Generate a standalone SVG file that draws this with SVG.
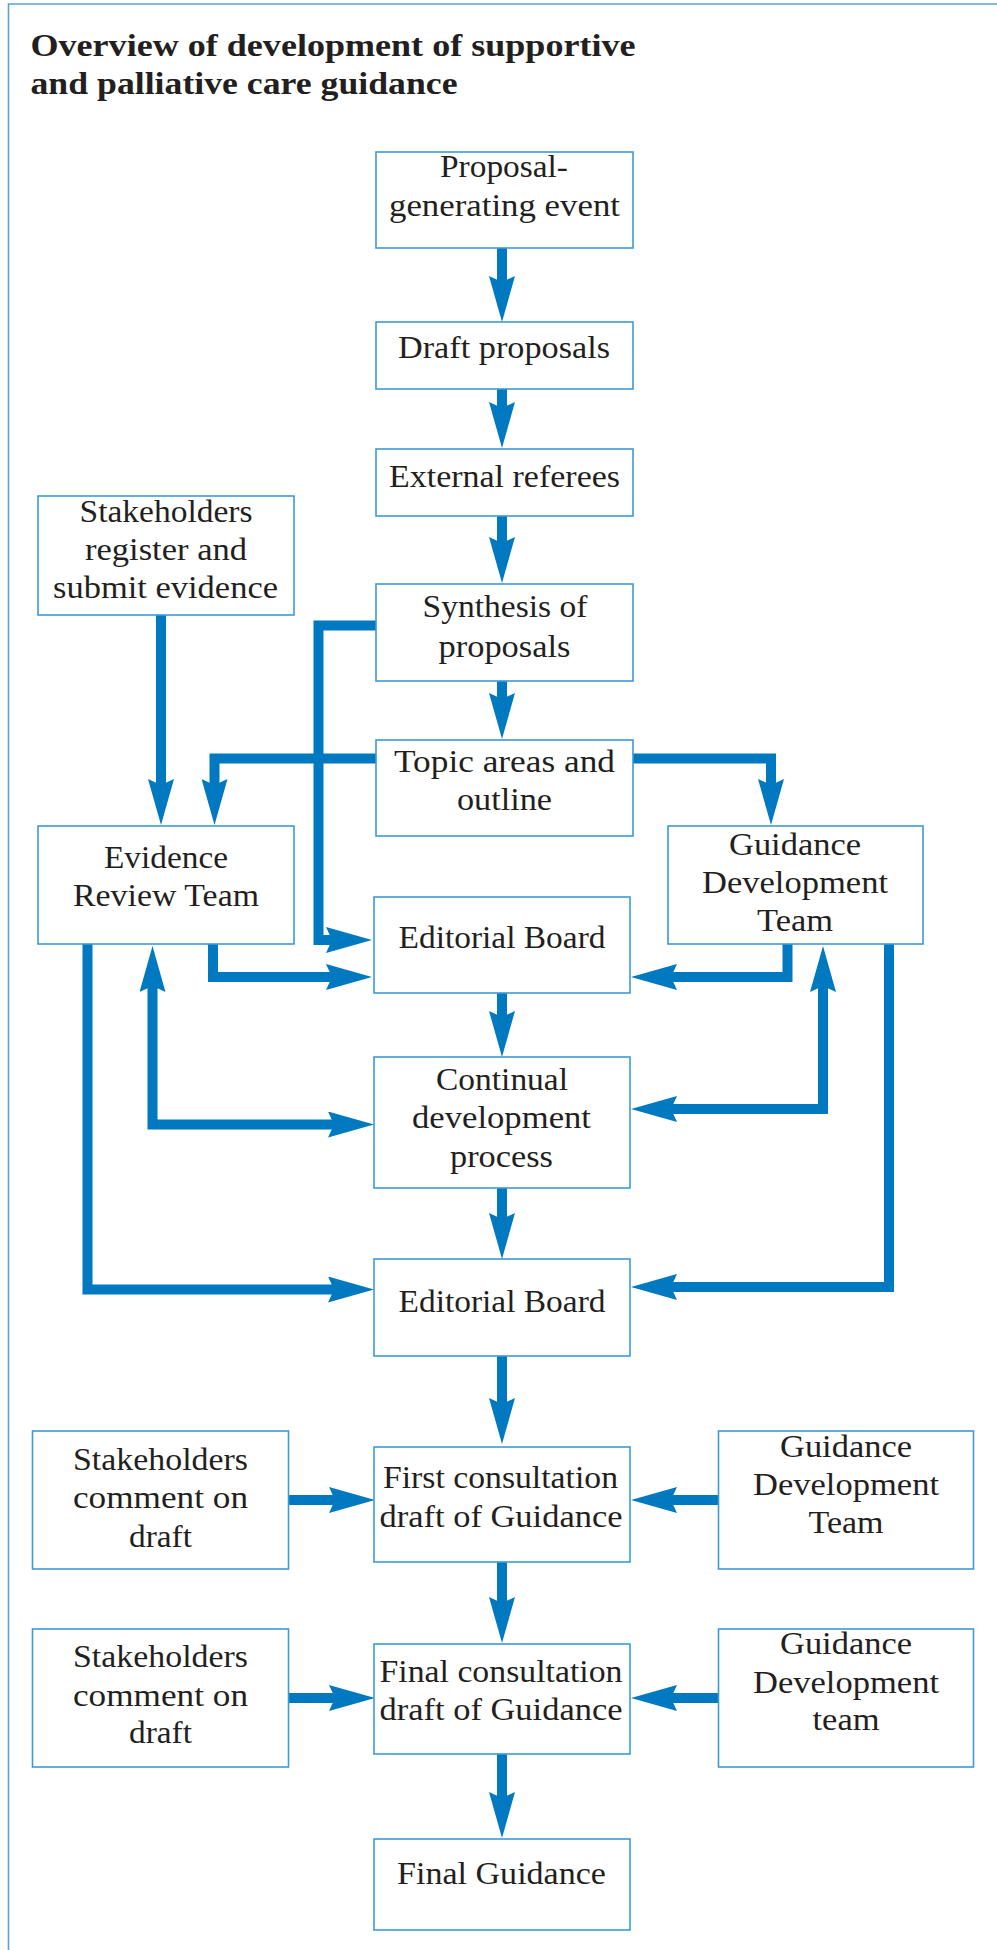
<svg xmlns="http://www.w3.org/2000/svg" width="997" height="1950" viewBox="0 0 997 1950">
<style>
.box{fill:#ffffff;stroke:#3d9ad6;stroke-width:1.6}
.t{font-family:"Liberation Serif","Times New Roman",serif;font-size:31px;fill:#231f20;text-anchor:middle}
.title{font-family:"Liberation Serif","Times New Roman",serif;font-size:32px;font-weight:bold;fill:#231f20}
.c{fill:none;stroke:#0079c1;stroke-width:10;stroke-linejoin:miter;stroke-linecap:butt;marker-end:url(#ah)}
.c2{marker-start:url(#ah)}
</style>
<defs>
<marker id="ah" viewBox="-16 -13 46 26" refX="0" refY="0" markerWidth="46" markerHeight="26" markerUnits="userSpaceOnUse" orient="auto-start-reverse">
<path d="M-16,-13 L30,0 L-16,13 L-10,0 Z" fill="#0079c1"/>
</marker>
</defs>
<rect width="997" height="1950" fill="#ffffff"/>
<path d="M8.5,1950 V4 H997" fill="none" stroke="#5ba3d6" stroke-width="1.6"/>
<g id="title">
<text class="title" x="30.5" y="56" textLength="605" lengthAdjust="spacingAndGlyphs">Overview of development of supportive</text>
<text class="title" x="30.5" y="94" textLength="427" lengthAdjust="spacingAndGlyphs">and palliative care guidance</text>
</g>
<g id="connectors">
<path class="c" d="M502,248 V292"/>
<path class="c" d="M502,389 V418"/>
<path class="c" d="M502,516 V553"/>
<path class="c" d="M502,681 V709"/>
<path class="c" d="M161,615 V795"/>
<path class="c" d="M376,758.5 H214.5 V795"/>
<path class="c" d="M633,758.5 H771 V795"/>
<path class="c" d="M376,625.5 H318.5 V940 H342"/>
<path class="c" d="M213,944 V977 H342"/>
<path class="c" d="M787.5,944 V977 H661"/>
<path class="c" d="M502,993 V1027"/>
<path class="c c2" d="M152.5,976 V1124.5 H344"/>
<path class="c c2" d="M823,976 V1109 H661"/>
<path class="c" d="M87.5,944 V1289.5 H344"/>
<path class="c" d="M889,944 V1287 H661"/>
<path class="c" d="M502,1188 V1229"/>
<path class="c" d="M502,1356 V1414"/>
<path class="c" d="M288.5,1500 H345"/>
<path class="c" d="M718.5,1500 H661"/>
<path class="c" d="M502,1562 V1613"/>
<path class="c" d="M288.5,1698 H345"/>
<path class="c" d="M718.5,1698 H661"/>
<path class="c" d="M502,1754 V1808"/>
</g>
<g id="proposal-event">
<rect class="box" x="376" y="152" width="257" height="96"/>
<text class="t" x="504" y="177" textLength="128" lengthAdjust="spacingAndGlyphs">Proposal-</text>
<text class="t" x="504.5" y="216" textLength="231" lengthAdjust="spacingAndGlyphs">generating event</text>
</g>
<g id="draft-proposals">
<rect class="box" x="376" y="322" width="257" height="67"/>
<text class="t" x="504" y="358" textLength="212" lengthAdjust="spacingAndGlyphs">Draft proposals</text>
</g>
<g id="external-referees">
<rect class="box" x="376" y="449" width="257" height="67"/>
<text class="t" x="504.5" y="487" textLength="231" lengthAdjust="spacingAndGlyphs">External referees</text>
</g>
<g id="stakeholders-register">
<rect class="box" x="38" y="496" width="256" height="119"/>
<text class="t" x="166" y="522" textLength="173" lengthAdjust="spacingAndGlyphs">Stakeholders</text>
<text class="t" x="166" y="560" textLength="162" lengthAdjust="spacingAndGlyphs">register and</text>
<text class="t" x="165.5" y="598" textLength="225" lengthAdjust="spacingAndGlyphs">submit evidence</text>
</g>
<g id="synthesis">
<rect class="box" x="376" y="584" width="257" height="97"/>
<text class="t" x="505" y="617" textLength="165" lengthAdjust="spacingAndGlyphs">Synthesis of</text>
<text class="t" x="504.5" y="657" textLength="132" lengthAdjust="spacingAndGlyphs">proposals</text>
</g>
<g id="topic-areas">
<rect class="box" x="376" y="740" width="257" height="96"/>
<text class="t" x="504.5" y="772" textLength="221" lengthAdjust="spacingAndGlyphs">Topic areas and</text>
<text class="t" x="504.5" y="810" textLength="95" lengthAdjust="spacingAndGlyphs">outline</text>
</g>
<g id="evidence-review-team">
<rect class="box" x="38" y="826" width="256" height="118"/>
<text class="t" x="166" y="868" textLength="124" lengthAdjust="spacingAndGlyphs">Evidence</text>
<text class="t" x="166" y="906" textLength="186" lengthAdjust="spacingAndGlyphs">Review Team</text>
</g>
<g id="editorial-board-1">
<rect class="box" x="374" y="897" width="256" height="96"/>
<text class="t" x="502" y="948" textLength="207" lengthAdjust="spacingAndGlyphs">Editorial Board</text>
</g>
<g id="guidance-development-team-1">
<rect class="box" x="668" y="826" width="255" height="118"/>
<text class="t" x="795" y="855" textLength="132" lengthAdjust="spacingAndGlyphs">Guidance</text>
<text class="t" x="795" y="893" textLength="186" lengthAdjust="spacingAndGlyphs">Development</text>
<text class="t" x="795" y="931" textLength="76" lengthAdjust="spacingAndGlyphs">Team</text>
</g>
<g id="continual-development">
<rect class="box" x="374" y="1057" width="256" height="131"/>
<text class="t" x="502" y="1090" textLength="132" lengthAdjust="spacingAndGlyphs">Continual</text>
<text class="t" x="501.5" y="1128" textLength="179" lengthAdjust="spacingAndGlyphs">development</text>
<text class="t" x="501.5" y="1167" textLength="103" lengthAdjust="spacingAndGlyphs">process</text>
</g>
<g id="editorial-board-2">
<rect class="box" x="374" y="1259" width="256" height="97"/>
<text class="t" x="502" y="1312" textLength="207" lengthAdjust="spacingAndGlyphs">Editorial Board</text>
</g>
<g id="first-consultation">
<rect class="box" x="374" y="1447" width="256" height="115"/>
<text class="t" x="500.5" y="1488" textLength="235" lengthAdjust="spacingAndGlyphs">First consultation</text>
<text class="t" x="501" y="1527" textLength="243" lengthAdjust="spacingAndGlyphs">draft of Guidance</text>
</g>
<g id="stakeholders-comment-1">
<rect class="box" x="32.5" y="1431" width="256" height="138"/>
<text class="t" x="160.5" y="1470" textLength="175" lengthAdjust="spacingAndGlyphs">Stakeholders</text>
<text class="t" x="160.5" y="1508" textLength="175" lengthAdjust="spacingAndGlyphs">comment on</text>
<text class="t" x="160.5" y="1547" textLength="63" lengthAdjust="spacingAndGlyphs">draft</text>
</g>
<g id="guidance-development-team-2">
<rect class="box" x="718.5" y="1431" width="255" height="138"/>
<text class="t" x="846" y="1457" textLength="132" lengthAdjust="spacingAndGlyphs">Guidance</text>
<text class="t" x="846" y="1495" textLength="186" lengthAdjust="spacingAndGlyphs">Development</text>
<text class="t" x="846" y="1533" textLength="75" lengthAdjust="spacingAndGlyphs">Team</text>
</g>
<g id="final-consultation">
<rect class="box" x="374" y="1644" width="256" height="110"/>
<text class="t" x="501" y="1682" textLength="243" lengthAdjust="spacingAndGlyphs">Final consultation</text>
<text class="t" x="501" y="1720" textLength="243" lengthAdjust="spacingAndGlyphs">draft of Guidance</text>
</g>
<g id="stakeholders-comment-2">
<rect class="box" x="32.5" y="1629" width="256" height="138"/>
<text class="t" x="160.5" y="1667" textLength="175" lengthAdjust="spacingAndGlyphs">Stakeholders</text>
<text class="t" x="160.5" y="1706" textLength="175" lengthAdjust="spacingAndGlyphs">comment on</text>
<text class="t" x="160.5" y="1743" textLength="63" lengthAdjust="spacingAndGlyphs">draft</text>
</g>
<g id="guidance-development-team-3">
<rect class="box" x="718.5" y="1629" width="255" height="138"/>
<text class="t" x="846" y="1654" textLength="132" lengthAdjust="spacingAndGlyphs">Guidance</text>
<text class="t" x="846" y="1693" textLength="186" lengthAdjust="spacingAndGlyphs">Development</text>
<text class="t" x="846" y="1730" textLength="67" lengthAdjust="spacingAndGlyphs">team</text>
</g>
<g id="final-guidance">
<rect class="box" x="374" y="1839" width="256" height="91"/>
<text class="t" x="501.5" y="1884" textLength="209" lengthAdjust="spacingAndGlyphs">Final Guidance</text>
</g>
</svg>
